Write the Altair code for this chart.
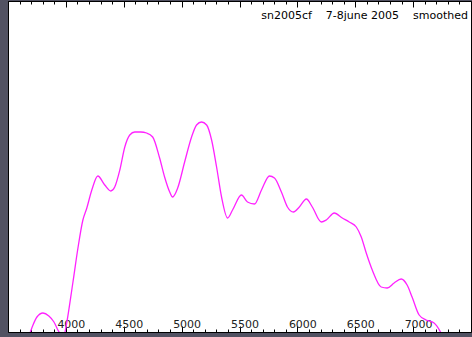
import altair as alt
import pandas as pd

# Wavelength (Angstrom) and relative flux
wavelength = [3647, 3690, 3716, 3750, 3802, 3853, 3897, 3931, 3948, 3966,
              3991, 4060, 4103, 4147, 4181, 4224, 4276, 4336, 4388, 4422,
              4466, 4509, 4552, 4595, 4647, 4698, 4750, 4810, 4853, 4897,
              4922, 4966, 5026, 5086, 5129, 5172, 5216, 5259, 5302, 5345,
              5397, 5440, 5517, 5569, 5629, 5690, 5759, 5802, 5862, 5914,
              5966, 6017, 6078, 6129, 6207, 6250, 6319, 6388, 6448, 6509,
              6552, 6595, 6647, 6724, 6776, 6836, 6897, 6948, 6991, 7052,
              7112, 7181, 7241, 7293]
flux = [-0.15, -0.01, 0.07, 0.15, 0.19, 0.16, 0.10, 0.02, -0.02, -0.12,
        -0.01, 0.49, 0.83, 1.12, 1.24, 1.42, 1.56, 1.47, 1.41, 1.45,
        1.62, 1.85, 1.97, 2.00, 2.00, 1.99, 1.95, 1.74, 1.55, 1.40,
        1.35, 1.44, 1.70, 1.95, 2.07, 2.10, 2.07, 1.92, 1.65, 1.35,
        1.14, 1.22, 1.37, 1.30, 1.28, 1.42, 1.56, 1.54, 1.40, 1.25,
        1.20, 1.25, 1.33, 1.25, 1.10, 1.12, 1.19, 1.14, 1.10, 1.05,
        0.95, 0.79, 0.62, 0.45, 0.44, 0.49, 0.53, 0.47, 0.35, 0.17,
        0.12, 0.09, -0.01, -0.15]

major_ticks = [3500, 4000, 4500, 5000, 5500, 6000, 6500, 7000]
minor_ticks = list(range(3500, 7501, 100))
NB = "\u00a0"
title_text = "sn2005cf" + NB * 4 + "7-8june 2005" + NB * 4 + "smoothed"

df = pd.DataFrame({"wl": wavelength, "flux": flux})

xscale = alt.Scale(domain=[3500, 7500], nice=False, zero=False)
yscale = alt.Scale(domain=[0, 3.31], nice=False, zero=False)


def axis(orient, values, size, labels=False):
    kw = dict(orient=orient, values=values, tickSize=size, offset=-size,
              domain=False, grid=False, title=None, tickColor="#000",
              tickWidth=1, labels=labels)
    if labels:
        kw.update(labelFont="DejaVu Sans", labelFontSize=11,
                  labelColor="#222", labelBaseline="alphabetic",
                  labelPadding=-5, labelOffset=5, labelOverlap=False,
                  labelFlush=False, format="d")
    return alt.Axis(**kw)


line = alt.Chart(df).mark_line(color="#ff22ff", strokeWidth=1.3, clip=True,
                               interpolate="monotone").encode(
    x=alt.X("wl:Q", scale=xscale,
            axis=axis("bottom", major_ticks[1:], 6, labels=True)),
    y=alt.Y("flux:Q", scale=yscale, axis=None),
)


def ghost(orient, values, size):
    return alt.Chart(df).mark_line(opacity=0).encode(
        x=alt.X("wl:Q", scale=xscale, axis=axis(orient, values, size)),
        y=alt.Y("flux:Q", scale=yscale, axis=None),
    )


title = alt.Chart(pd.DataFrame({"t": [title_text]})).mark_text(
    align="right", baseline="alphabetic", font="DejaVu Sans", fontSize=11,
    color="#000").encode(text="t:N", x=alt.value(460), y=alt.value(18))

chart = alt.layer(
    line,
    ghost("bottom", minor_ticks, 3),
    ghost("top", minor_ticks, 3),
    ghost("top", major_ticks, 6),
    title,
).resolve_axis(x="independent").properties(
    width=463, height=331,
    padding={"left": 8, "top": 1, "right": 1, "bottom": 5},
    autosize=alt.AutoSizeParams(type="none"),
    background="#525262",
).configure_view(fill="white", stroke="#000", strokeWidth=1)

chart.save("out.html", embed_options={"renderer": "svg", "actions": False})
